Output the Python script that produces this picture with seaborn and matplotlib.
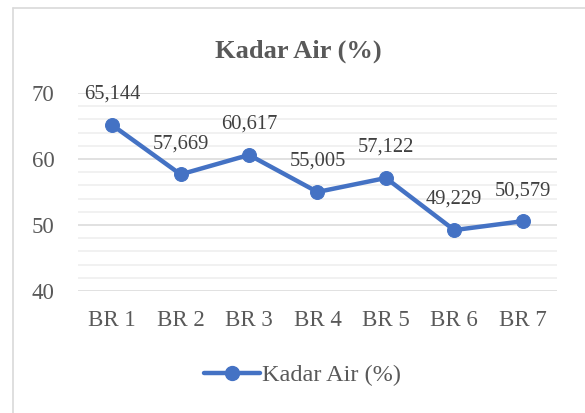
import pandas as pd
import seaborn as sns
import matplotlib.pyplot as plt
from matplotlib.lines import Line2D
from matplotlib.ticker import MultipleLocator

sns.set_style("white")
plt.rcParams['font.family'] = ['Liberation Serif', 'DejaVu Serif']

samples = ["BR 1", "BR 2", "BR 3", "BR 4", "BR 5", "BR 6", "BR 7"]
kadar_air = [65.144, 57.669, 60.617, 55.005, 57.122, 49.229, 50.579]
series_name = "Kadar Air (%)"

df = pd.DataFrame({"sample": samples, "value": kadar_air})

grey = "#595959"
blue = "#4472C4"

fig = plt.figure(figsize=(5.85, 4.13), dpi=100)
ax = fig.add_axes([0.1333, 0.2954, 0.8187, 0.4794])

sns.lineplot(data=df, x="sample", y="value", ax=ax, color=blue, linewidth=3.2,
             marker="o", markersize=10, markeredgecolor=blue, label=series_name,
             legend=False, zorder=3)

ax.set_ylim(40, 70)
ax.set_xlim(-0.5, len(samples) - 0.5)
ax.yaxis.set_major_locator(MultipleLocator(10))
ax.yaxis.set_minor_locator(MultipleLocator(2))
ax.grid(axis="y", which="major", color="#D9D9D9", linewidth=1.1)
ax.grid(axis="y", which="minor", color="#EDEDED", linewidth=1.1)
ax.grid(axis="x", visible=False)
for s in ax.spines.values():
    s.set_visible(False)
ax.tick_params(axis="both", which="both", length=0, labelsize=16.5, labelcolor=grey)
ax.tick_params(axis="y", pad=17)
ax.tick_params(axis="x", pad=14)
ax.set_xlabel("")
ax.set_ylabel("")

# data labels above the points, decimal comma
for i, v in enumerate(kadar_air):
    ax.annotate(f"{v:.3f}".replace(".", ","), (i, v), xytext=(0, 22),
                textcoords="offset points", ha="center", va="center",
                fontsize=14.8, color="#404040", zorder=4)

fig.text(0.51, 0.875, series_name, ha="center", va="center",
         fontsize=19, fontweight="bold", color=grey)

handle = Line2D([], [], color=blue, linewidth=3.2, marker="o", markersize=10)
fig.legend([handle], [series_name], loc="center", bbox_to_anchor=(0.517, 0.092),
           frameon=False, fontsize=17.5, labelcolor=grey, handlelength=2.3,
           handletextpad=0.1)

# chart frame (left and top edges visible)
fig.add_artist(Line2D([0.023, 0.023], [0.0, 0.981], color="#D9D9D9", linewidth=1.2,
                      transform=fig.transFigure))
fig.add_artist(Line2D([0.023, 1.0], [0.981, 0.981], color="#D9D9D9", linewidth=1.2,
                      transform=fig.transFigure))

fig.savefig("out.png", dpi=100)
